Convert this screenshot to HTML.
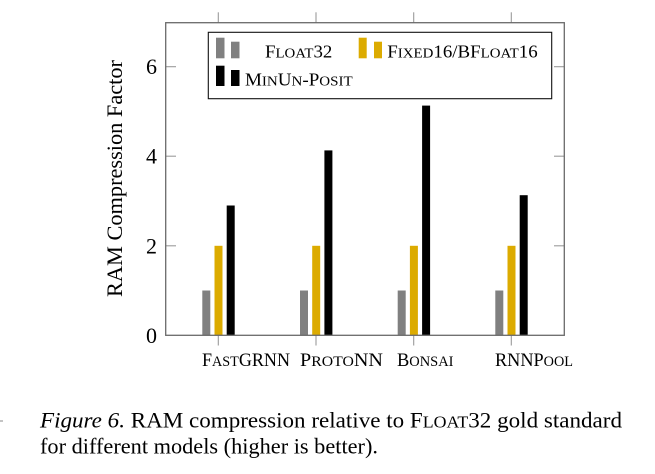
<!DOCTYPE html>
<html><head><meta charset="utf-8"><style>
html,body{margin:0;padding:0;background:#fff;}
svg{display:block;}
text{font-family:"Liberation Serif",serif;fill:#000;}
</style></head><body>
<svg width="655" height="474" viewBox="0 0 655 474" xmlns="http://www.w3.org/2000/svg">
<!-- bars -->
<g>
<rect x="202.3" y="290.5" width="8" height="44.8" fill="#808080"/>
<rect x="214.5" y="245.8" width="8" height="89.5" fill="#dcab00"/>
<rect x="226.7" y="205.5" width="8" height="129.8" fill="#000"/>

<rect x="300" y="290.5" width="8" height="44.8" fill="#808080"/>
<rect x="312.2" y="245.8" width="8" height="89.5" fill="#dcab00"/>
<rect x="324.4" y="150.4" width="8" height="184.9" fill="#000"/>

<rect x="397.7" y="290.5" width="8" height="44.8" fill="#808080"/>
<rect x="409.9" y="245.8" width="8" height="89.5" fill="#dcab00"/>
<rect x="422.1" y="105.6" width="8" height="229.7" fill="#000"/>

<rect x="495.3" y="290.5" width="8" height="44.8" fill="#808080"/>
<rect x="507.5" y="245.8" width="8" height="89.5" fill="#dcab00"/>
<rect x="519.7" y="195.2" width="8" height="140.1" fill="#000"/>
</g>
<!-- ticks -->
<g stroke="#9a9a9a" stroke-width="1.1">
<line x1="165.7" y1="245.8" x2="176" y2="245.8"/>
<line x1="165.7" y1="156.2" x2="176" y2="156.2"/>
<line x1="165.7" y1="66.7" x2="176" y2="66.7"/>
<line x1="564.3" y1="245.8" x2="554" y2="245.8"/>
<line x1="564.3" y1="156.2" x2="554" y2="156.2"/>
<line x1="564.3" y1="66.7" x2="554" y2="66.7"/>
<line x1="218.3" y1="335.3" x2="218.3" y2="345.5"/>
<line x1="316" y1="335.3" x2="316" y2="345.5"/>
<line x1="413.7" y1="335.3" x2="413.7" y2="345.5"/>
<line x1="511.3" y1="335.3" x2="511.3" y2="345.5"/>
<line x1="218.3" y1="22.7" x2="218.3" y2="12.3"/>
<line x1="316" y1="22.7" x2="316" y2="12.3"/>
<line x1="413.7" y1="22.7" x2="413.7" y2="12.3"/>
<line x1="511.3" y1="22.7" x2="511.3" y2="12.3"/>
</g>
<!-- axis frame -->
<rect x="165.7" y="22.7" width="398.6" height="312.6" fill="none" stroke="#6a6a6a" stroke-width="1.3"/>
<!-- y tick labels -->
<g font-size="22" text-anchor="end">
<text x="157" y="342.8">0</text>
<text x="157" y="253.3">2</text>
<text x="157" y="163.7">4</text>
<text x="157" y="74.2">6</text>
</g>
<!-- y label -->
<text transform="translate(122,178.5) rotate(-90)" text-anchor="middle" font-size="22" textLength="237" lengthAdjust="spacingAndGlyphs">RAM Compression Factor</text>
<!-- x labels -->
<g font-size="18.5">
<text x="202" y="366" textLength="88" lengthAdjust="spacingAndGlyphs">F<tspan font-size="14.5">AST</tspan>GRNN</text>
<text x="300" y="366" textLength="83" lengthAdjust="spacingAndGlyphs">P<tspan font-size="14.5">ROTO</tspan>NN</text>
<text x="397" y="366" textLength="56.5" lengthAdjust="spacingAndGlyphs">B<tspan font-size="14.5">ONSAI</tspan></text>
<text x="495" y="366" textLength="78" lengthAdjust="spacingAndGlyphs">RNNP<tspan font-size="14.5">OOL</tspan></text>
</g>
<!-- legend -->
<rect x="208.3" y="32.3" width="343.4" height="66.4" fill="#fff" stroke="#111" stroke-width="1.1"/>
<rect x="216" y="37.7" width="8.5" height="20.6" fill="#808080"/>
<rect x="231" y="41.7" width="8.5" height="16.6" fill="#808080"/>
<rect x="358.7" y="37.7" width="8" height="20.6" fill="#dcab00"/>
<rect x="374" y="41.7" width="8" height="16.6" fill="#dcab00"/>
<rect x="216" y="65.7" width="8.5" height="20.3" fill="#000"/>
<rect x="231" y="70" width="8.5" height="16" fill="#000"/>
<g font-size="17.5">
<text x="265" y="57.3" textLength="67.3" lengthAdjust="spacingAndGlyphs">F<tspan font-size="13.8">LOAT</tspan>32</text>
<text x="387.3" y="57.3" textLength="150.4" lengthAdjust="spacingAndGlyphs">F<tspan font-size="13.8">IXED</tspan>16/BF<tspan font-size="13.8">LOAT</tspan>16</text>
<text x="245" y="85.3" textLength="107.7" lengthAdjust="spacingAndGlyphs">M<tspan font-size="13.8">IN</tspan>U<tspan font-size="13.8">N</tspan>-P<tspan font-size="13.8">OSIT</tspan></text>
</g>
<!-- caption -->
<line x1="0" y1="421" x2="3" y2="421" stroke="#888" stroke-width="1"/>
<g font-size="22">
<text x="40" y="427.3" textLength="582" lengthAdjust="spacingAndGlyphs"><tspan font-style="italic">Figure 6.</tspan> RAM compression relative to F<tspan font-size="17">LOAT</tspan>32 gold standard</text>
<text x="40" y="453.5" textLength="338" lengthAdjust="spacingAndGlyphs">for different models (higher is better).</text>
</g>
</svg>
</body></html>
